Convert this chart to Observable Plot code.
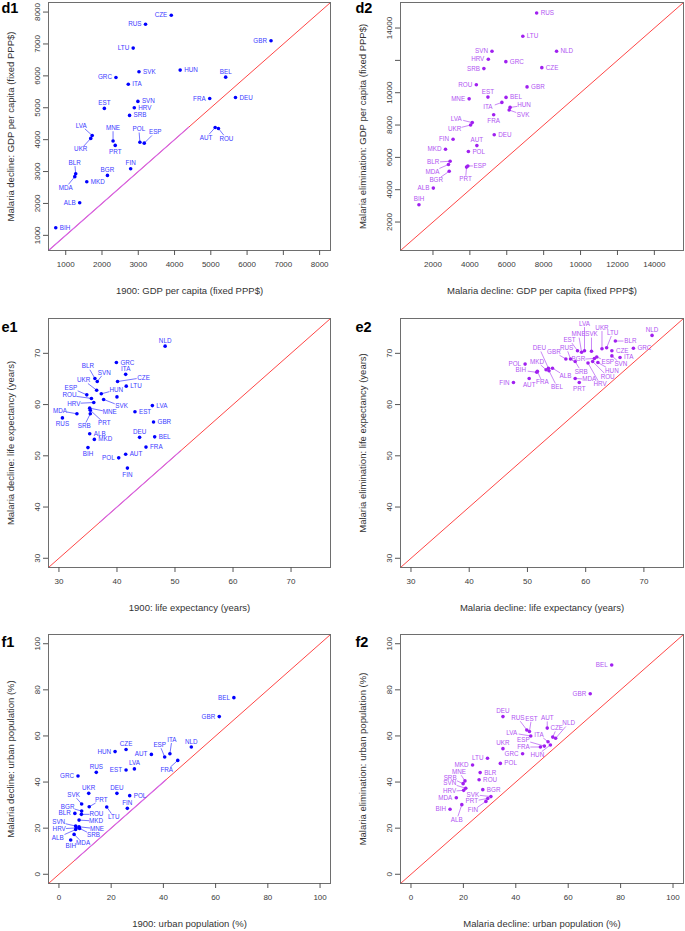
<!DOCTYPE html>
<html><head><meta charset="utf-8">
<script src="https://cdn.jsdelivr.net/npm/d3@7"></script>
<script src="https://cdn.jsdelivr.net/npm/@observablehq/plot@0.6"></script>
<style>
body{margin:0;background:#fff;}
#root{position:relative;width:685px;height:931px;overflow:hidden;}
#root svg{position:absolute;overflow:visible;}
</style></head><body><div id="root"></div>
<script>
// ---------------- data ----------------
const countries = ["ALB","AUT","BEL","BGR","BIH","BLR","CZE","DEU","ESP","EST","FIN","FRA","GBR","GRC","HRV","HUN","ITA","LTU","LVA","MDA","MKD","MNE","NLD","POL","PRT","ROU","RUS","SRB","SVK","SVN","UKR"];
const gdp1900    = [1385,5120,5410,2150,725,1275,3910,5680,3165,2065,2790,4970,6660,2385,2890,4155,2725,2860,1730,1250,1580,2305,null,3045,2365,5210,3200,2760,3020,2990,1690];
const gdpDecline = [2020,4380,5960,2880,1240,2930,7900,5320,3890,4980,3090,5290,7100,5950,5000,6180,5735,6870,4130,2840,2680,3960,8700,3920,3820,4350,7620,4760,6130,5200,4040];
const gdpElim    = [4100,6730,9710,5140,3070,5760,11550,7400,5470,9730,7120,8640,10360,11920,12070,9090,9400,13490,8150,5560,6500,9620,12560,6360,5400,10490,14930,11490,8930,12560,8000];
const le1900     = [35.3,41.5,46.5,40.0,35.0,36.2,40.1,43.9,34.8,43.1,41.8,45.0,46.3,39.9,36.0,37.3,41.5,41.6,46.1,33.1,36.1,35.3,48.3,40.3,35.4,35.6,30.6,35.4,37.7,36.6,36.5];
const leDecline  = [54.3,50.3,53.7,61.5,51.6,65.1,64.5,53.6,61.9,58.6,47.6,51.7,56.6,68.2,60.4,62.1,65.9,63.6,59.8,58.2,53.2,59.3,71.4,49.6,58.9,61.2,57.4,58.2,61.0,64.5,62.8];
const leElim     = [67.1,65.1,66.6,69.0,66.3,72.4,70.5,67.1,69.3,70.5,64.3,66.5,68.9,71.0,68.1,68.2,69.2,71.1,70.5,65.1,66.8,70.2,73.5,67.9,64.3,68.4,68.9,68.4,70.4,69.5,70.9];
const urb1900    = [6.4,35.4,67.0,8.7,4.5,6.1,25.7,22.2,40.5,25.7,26.2,45.5,61.4,7.3,6.6,21.5,42.5,18.3,28.9,5.8,7.7,7.7,50.7,27.1,11.6,8.6,14.3,7.9,8.7,6.4,11.4];
const urbDecline = [19.4,52.0,76.6,27.4,14.9,26.4,54.1,35.1,50.9,45.2,28.6,49.4,68.4,42.6,20.1,53.2,52.3,29.2,45.7,17.3,23.5,20.6,55.2,34.1,29.3,26.0,44.2,19.9,30.5,20.9,35.1];
const urbElim    = [30.2,63.4,90.8,36.7,28.2,44.1,59.5,68.4,55.6,61.9,31.6,55.2,78.3,52.3,36.4,56.1,57.5,50.3,60.0,33.2,47.4,40.5,59.0,48.1,32.9,41.0,62.6,39.3,33.7,37.3,54.5];

const gdpTicks1 = [1000,2000,3000,4000,5000,6000,7000,8000];
const gdpTicks2 = [2000,4000,6000,8000,10000,12000,14000];
const gdpTickLabels2y = ["2000","4000","6000","8000","10000","","14000"];
const leTicks = [30,40,50,60,70];
const urbTicks = [0,20,40,60,80,100];

const panelNames = ["d1","d2","e1","e2","f1","f2"];
const xTitles = ["1900: GDP per capita (fixed PPP$)","Malaria decline: GDP per capita (fixed PPP$)",
  "1900: life expectancy (years)","Malaria decline: life expectancy (years)",
  "1900: urban population (%)","Malaria decline: urban population (%)"];
const yTitles = ["Malaria decline: GDP per capita (fixed PPP$)","Malaria elimination: GDP per capita (fixed PPP$)",
  "Malaria decline: life expectancy (years)","Malaria elimination: life expectancy (years)",
  "Malaria decline: urban population (%)","Malaria elimination: urban population (%)"];

// axis ranges (both axes equal) and the violet stretch of the diagonal
const domains = {d1:[525,8300], d2:[240,15580], e1:[28.2,76.8], e2:[28.2,76.8], f1:[-4,104], f2:[-4,104]};
const violetStretch = {d1:[525,4400], e1:[37,51], f1:[6,41]};

// label placement (layout): r/l/t/b, n = none, or dx,dy pixel offset with leader line
const placement = {
 d1:"CZE:l RUS:l LTU:l GBR:l SVK:r HUN:r BEL:t GRC:l ITA:r FRA:l DEU:r EST:t SVN:r HRV:r SRB:r LVA:-11,-10 UKR:-10,11 MNE:0,-13 PRT:b POL:-1,-13 ESP:11,-11 AUT:-9,10 ROU:8,10 FIN:t BGR:t BLR:-1,-11 MDA:-9,11 MKD:r ALB:l BIH:r",
 d2:"RUS:r LTU:r NLD:r SVN:l HRV:l GRC:r CZE:r SRB:l ROU:l GBR:r EST:t BEL:r MNE:l ITA:-14,5 HUN:14,-2 SVK:14,5 FRA:b LVA:-16,-4 UKR:-16,4 DEU:r FIN:l AUT:t MKD:l POL:r BLR:-17,1 MDA:-16,7 BGR:-13,9 ESP:12,0 PRT:-1,12 ALB:l BIH:t",
 e1:"NLD:t GRC:r ITA:t BLR:-7,-12 SVN:7,-9 CZE:26,-4 LTU:r UKR:-13,-10 HUN:15,-4 ESP:-16,-7 ROU:-22,-3 HRV:-20,1 SVK:18,7 BGR:n MDA:-17,-3 RUS:b MNE:20,4 PRT:14,13 SRB:-6,12 EST:r LVA:r GBR:r DEU:t BEL:r ALB:r MKD:r BIH:b FRA:r AUT:r POL:l FIN:b",
 e2:"NLD:t GRC:r BLR:15,0 LTU:6,-15 UKR:0,-21 CZE:r ITA:r SVN:9,8 SVK:0,-17 LVA:0,-27 MNE:-3,-18 EST:-8,-11 RUS:-4,-11 GBR:-12,-7 BGR:-16,1 SRB:6,10 ESP:11,5 HUN:14,8 ROU:15,15 HRV:12,21 MDA:14,1 PRT:b DEU:-9,-20 MKD:-9,-8 ALB:13,8 BEL:8,16 FRA:5,11 BIH:-16,-2 POL:l AUT:b FIN:l",
 f1:"BEL:l GBR:l NLD:t ITA:2,-14 ESP:-5,-12 FRA:-11,10 AUT:l CZE:t HUN:l LVA:t EST:l RUS:t GRC:l UKR:t DEU:t POL:r SVK:-8,-9 PRT:12,-7 FIN:t LTU:7,10 BGR:-14,-4 BLR:l ROU:15,0 MKD:17,1 SVN:-17,-4 HRV:-17,1 MNE:18,2 SRB:14,7 ALB:-18,8 MDA:9,9 BIH:b",
 f2:"BEL:l GBR:l DEU:t RUS:-9,-12 EST:2,-13 AUT:0,-10 NLD:13,-15 CZE:4,-9 LVA:-19,-3 ITA:-9,-7 ESP:-21,-6 FRA:-17,0 HUN:-13,10 UKR:t GRC:l LTU:l POL:r MKD:l BLR:r ROU:r BGR:r MNE:-6,-9 SRB:-13,-6 SVN:-16,-5 HRV:-14,1 MDA:l SVK:-18,-2 PRT:-16,3 FIN:-13,9 BIH:l ALB:-5,15"
};

// ---------------- layout ----------------
const FONT = '"Liberation Sans", Arial, Helvetica, sans-serif';
const cols = {left:{x:0,width:340,ml:48,mr:10,letterDx:-47}, right:{x:340,width:345,ml:60,mr:2,letterDx:-45}};
const rows = {d:{top:0,height:305,mt:2,mb:55,letterDy:10}, e:{top:305,height:317,mt:13,mb:55,letterDy:13}, f:{top:622,height:309,mt:12,mb:48,letterDy:12}};
const palette = {
  left:{dot:"#0000ff", label:"#3b3bff"},
  right:{dot:"#a020f0", label:"#b155f2"}
};
const panelSpecs = [
  {id:"d1", col:"left", row:"d", xs:gdp1900, ys:gdpDecline, xt:gdpTicks1, yt:gdpTicks1},
  {id:"d2", col:"right", row:"d", xs:gdpDecline, ys:gdpElim, xt:gdpTicks2, yt:gdpTicks2, ytl:gdpTickLabels2y},
  {id:"e1", col:"left", row:"e", xs:le1900, ys:leDecline, xt:leTicks, yt:leTicks},
  {id:"e2", col:"right", row:"e", xs:leDecline, ys:leElim, xt:leTicks, yt:leTicks},
  {id:"f1", col:"left", row:"f", xs:urb1900, ys:urbDecline, xt:urbTicks, yt:urbTicks},
  {id:"f2", col:"right", row:"f", xs:urbDecline, ys:urbElim, xt:urbTicks, yt:urbTicks}
];

function parsePlace(str){
  const m = {};
  str.trim().split(/\s+/).forEach(tok => {
    const [k, v] = tok.split(":");
    m[k] = v.includes(",") ? v.split(",").map(Number) : v;
  });
  return m;
}

const root = document.getElementById("root");

panelSpecs.forEach((p, pi) => {
  const c = cols[p.col], r = rows[p.row];
  const dom = domains[p.id];
  const pal = palette[p.col];
  const sx = Plot.scale({x:{type:"linear", domain:dom, range:[c.ml, c.width - c.mr]}});
  const sy = Plot.scale({y:{type:"linear", domain:dom, range:[r.height - r.mb, r.mt]}});
  const place = parsePlace(placement[p.id]);

  const pts = countries.map((name, i) => ({name, x:p.xs[i], y:p.ys[i]})).filter(d => d.x != null && d.y != null);
  const labStart = [], labEnd = [], labMid = [], leaders = [];
  pts.forEach(d => {
    const pl = place[d.name] || "r";
    const px = sx.apply(d.x), py = sy.apply(d.y);
    if (pl === "n") return;
    if (pl === "r") labStart.push({name:d.name, lx:sx.invert(px + 4), ly:d.y});
    else if (pl === "l") labEnd.push({name:d.name, lx:sx.invert(px - 4), ly:d.y});
    else if (pl === "t") labMid.push({name:d.name, lx:d.x, ly:sy.invert(py - 5.5)});
    else if (pl === "b") labMid.push({name:d.name, lx:d.x, ly:sy.invert(py + 6.5)});
    else {
      const [dx, dy] = pl;
      labMid.push({name:d.name, lx:sx.invert(px + dx), ly:sy.invert(py + dy)});
      const w = d.name.length * 1.9 + 1.2, h = 3.3;
      const s = Math.min(dx ? w/Math.abs(dx) : Infinity, dy ? h/Math.abs(dy) : Infinity);
      if (s < 1) leaders.push({x1:d.x, y1:d.y, x2:sx.invert(px + dx*(1-s)), y2:sy.invert(py + dy*(1-s))});
    }
  });

  const marks = [
    Plot.link([dom], {x1:d=>d[0], y1:d=>d[0], x2:d=>d[1], y2:d=>d[1], stroke:"#ff4646", strokeWidth:1})
  ];
  if (violetStretch[p.id]) {
    marks.push(Plot.link([violetStretch[p.id]], {x1:d=>d[0], y1:d=>d[0], x2:d=>d[1], y2:d=>d[1], stroke:"#d466ee", strokeWidth:1.1}));
  }
  const lblOpts = {fill:pal.label, fontSize:6.3, fontFamily:FONT};
  marks.push(
    Plot.link(leaders, {x1:"x1", y1:"y1", x2:"x2", y2:"y2", stroke:pal.label, strokeWidth:0.7}),
    Plot.dot(pts, {x:"x", y:"y", r:1.8, fill:pal.dot, stroke:null}),
    Plot.text(labStart, {x:"lx", y:"ly", text:"name", textAnchor:"start", ...lblOpts}),
    Plot.text(labEnd, {x:"lx", y:"ly", text:"name", textAnchor:"end", ...lblOpts}),
    Plot.text(labMid, {x:"lx", y:"ly", text:"name", textAnchor:"middle", ...lblOpts}),
    Plot.frame({stroke:"#6e6e6e", strokeWidth:1}),
    Plot.axisX({ticks:p.xt, tickSize:5, tickPadding:6, label:null, tickFormat:d=>String(d), fontSize:8, fill:"#3a3a3a", stroke:"#555"}),
    Plot.axisY({ticks:p.yt, tickSize:5, tickPadding:4, tickRotate:-90, label:null,
      tickFormat:(d,i)=> p.ytl ? p.ytl[i] : String(d), fontSize:8, fill:"#3a3a3a", stroke:"#555"}),
    Plot.text([xTitles[pi]], {frameAnchor:"bottom", dy:40, text:d=>d, fontSize:9.5, fill:"#333", fontFamily:FONT, textAnchor:"middle", lineAnchor:"middle"}),
    Plot.text([yTitles[pi]], {frameAnchor:"left", dx:-38, rotate:-90, text:d=>d, fontSize:9.5, fill:"#333", fontFamily:FONT, textAnchor:"middle", lineAnchor:"middle"}),
    Plot.text([panelNames[pi]], {frameAnchor:"top-left", dx:c.letterDx, dy:r.letterDy, text:d=>d, textAnchor:"start", lineAnchor:"bottom", fontSize:14.5, fontWeight:"bold", fill:"#000", fontFamily:FONT})
  );

  const svg = Plot.plot({
    width:c.width, height:r.height,
    marginLeft:c.ml, marginRight:c.mr, marginTop:r.mt, marginBottom:r.mb,
    x:{type:"linear", domain:dom},
    y:{type:"linear", domain:dom},
    style:{fontFamily:FONT, fontSize:"8px", color:"#3a3a3a", background:"transparent", overflow:"visible"},
    marks
  });
  svg.style.left = c.x + "px";
  svg.style.top = r.top + "px";
  root.appendChild(svg);
});
</script>
</body></html>
